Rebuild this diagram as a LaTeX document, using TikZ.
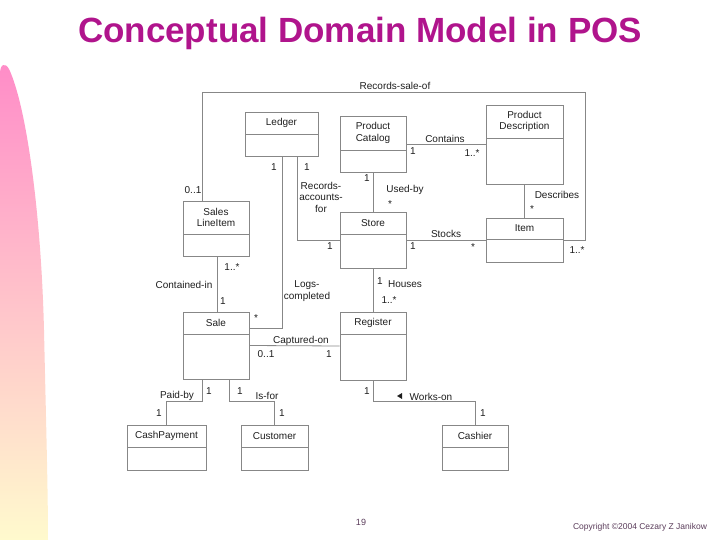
\documentclass[tikz,border=0pt]{standalone}
\usepackage{fontspec}
\setmainfont{Liberation Sans}
\definecolor{titlec}{RGB}{176,20,140}
\definecolor{linec}{RGB}{135,135,135}
\definecolor{txtc}{RGB}{30,30,30}
\definecolor{copyc}{RGB}{90,60,90}
\definecolor{pinkc}{RGB}{255,140,200}
\definecolor{yelc}{RGB}{255,250,205}
\definecolor{midc}{RGB}{255,212,205}
\tikzset{
 umlbox/.style={draw=linec, line width=0.8pt, inner sep=0pt},
 conn/.style={draw=linec, line width=0.8pt},
 lbl/.style={font=\fontsize{10}{11.5}\selectfont, text=txtc, inner sep=0pt, align=center},
}
\newcommand\umlbox[7]{%
 \node[umlbox, minimum width={#4-#2}, minimum height={#5-#3}] (#1) at ({(#2+#4)/2},{(#3+#5)/2}) {};
 \draw[conn] (#2,#6) -- (#4,#6);
 \node[lbl] (#1-t) at ({(#2+#4)/2},{(#3+#6)/2}) {#7};
}
\begin{document}
\begin{tikzpicture}[x=1pt,y=-1pt]
\useasboundingbox (0,0) rectangle (720,540);
% left decoration
\shade[top color=pinkc, middle color=midc, bottom color=yelc]
  (0,540) -- (0,74) .. controls (0,64) and (5,62) .. (9,69)
  .. controls (26,105) and (41,210) .. (44,330)
  .. controls (46,420) and (48,490) .. (48,540) -- cycle;
% title
\node[font=\fontsize{35}{40}\selectfont\bfseries, text=titlec, inner sep=0pt] (title) at (360,33) {Conceptual Domain Model in POS};
% boxes
\umlbox{ledger}{245}{112}{318}{156}{134}{Ledger}
\umlbox{pcat}{340}{116}{406}{172}{150}{Product\\Catalog}
\umlbox{pdesc}{486}{105}{563}{184}{138}{Product\\Description}
\umlbox{store}{340}{212}{406}{268}{234}{Store}
\umlbox{item}{486}{218}{563}{262}{239}{Item}
\umlbox{sli}{183}{201}{249}{256}{234}{Sales\\LineItem}
\umlbox{sale}{183}{312}{249}{379}{334}{Sale}
\umlbox{reg}{340}{312}{406}{380}{334}{Register}
\umlbox{cash}{127}{425}{206}{470}{447}{CashPayment}
\umlbox{cust}{241}{425}{308}{470}{447}{Customer}
\umlbox{cashier}{442}{425}{508}{470}{447}{Cashier}
% connectors
\coordinate (rsoc) at (585,92);
\draw[conn] ([xshift=20pt]sli.north west) |- (rsoc) |- (item.east);
\draw[conn] (pcat.east) -- (pdesc.west |- pcat.east);
\draw[conn] (pdesc.south) -- (item.north);
\draw[conn] (pcat.south) -- (store.north);
\draw[conn] (store.east) -- (item.west);
\draw[conn] ([xshift=-21pt]ledger.south east) |- (store.west);
\draw[conn] ([xshift=-36pt]ledger.south east) |- ([yshift=17.5pt]sale.east);
\draw[conn] ([xshift=1pt]sli.south) -- ([xshift=1pt]sale.north);
\draw[conn] (sale.east) -- (reg.west);
\draw[conn] (store.south) -- (reg.north);
\draw[conn] ([xshift=20pt]sale.south west) |- ([yshift=23pt]cash.north) -- (cash.north);
\draw[conn] ([xshift=47pt]sale.south west) |- ([yshift=23pt]cust.north) -- (cust.north);
\draw[conn] (reg.south) |- ([yshift=23pt]cashier.north) -- (cashier.north);
% labels
\node[lbl] (l1) at (395,86) {Records-sale-of};
\node[lbl] (l2) at (193,190) {0..1};
\node[lbl] (l3) at (577,250) {1..*};
\node[lbl] (l4) at (445,139) {Contains};
\node[lbl] (l5) at (413,151) {1};
\node[lbl] (l6) at (472,153) {1..*};
\node[lbl] (l7) at (557,195) {Describes};
\node[lbl] (l8) at (532,209) {*};
\node[lbl] (l9) at (367,178) {1};
\node[lbl] (l10) at (405,190) {Used-by};
\node[lbl] (l11) at (390,204) {*};
\node[lbl] (l12) at (446,234) {Stocks};
\node[lbl] (l13) at (413,246) {1};
\node[lbl] (l14) at (473,247) {*};
\node[lbl] (l15) at (274,167) {1};
\node[lbl] (l16) at (307,167) {1};
\node[lbl] (l17) at (321,197) {Records-\\accounts-\\for};
\node[lbl] (l18) at (330,246) {1};
\node[lbl] (l19) at (232,267) {1..*};
\node[lbl] (l20) at (184,285) {Contained-in};
\node[lbl] (l21) at (223,301) {1};
\node[lbl] (l22) at (307,291) {Logs-\\completed};
\node[lbl] (l23) at (256,318) {*};
\node[lbl] (l24) at (380,281) {1};
\node[lbl] (l25) at (405,284) {Houses};
\node[lbl] (l26) at (389,300) {1..*};
\node[lbl] (l27) at (301,341) {Captured-on};
\node[lbl] (l28) at (266,354) {0..1};
\node[lbl] (l29) at (329,354) {1};
\node[lbl] (l30) at (209,391) {1};
\node[lbl] (l31) at (177,396) {Paid-by};
\node[lbl] (l32) at (159,413) {1};
\node[lbl] (l33) at (240,391) {1};
\node[lbl] (l34) at (267,396) {Is-for};
\node[lbl] (l35) at (282,413) {1};
\node[lbl] (l36) at (367,391) {1};
\node[lbl] (l37) at (431,397) {Works-on};
\node[lbl] (l38) at (483,413) {1};
\fill[txtc] (397,396) -- (402,393) -- (402,399) -- cycle;
% footer
\node[font=\fontsize{9}{10}\selectfont, text=copyc, inner sep=0pt] (page) at (361,522) {19};
\node[font=\fontsize{8.5}{10}\selectfont, text=copyc, inner sep=0pt] (copy) at (640,527) {Copyright ©2004 Cezary Z Janikow};
\end{tikzpicture}
\end{document}
